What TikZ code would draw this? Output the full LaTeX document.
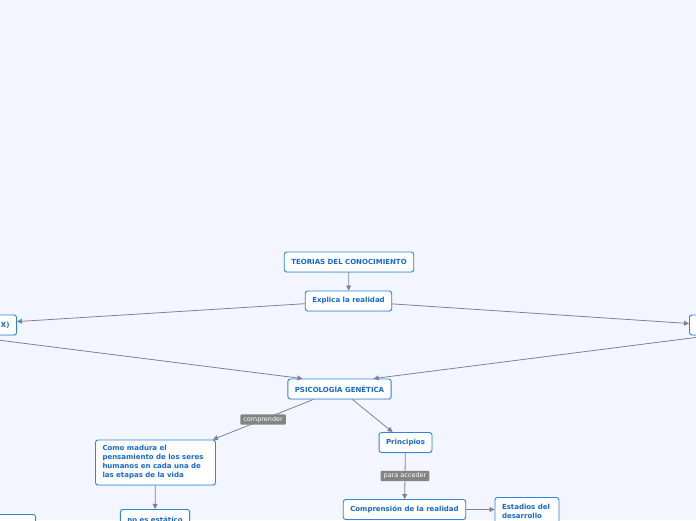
\documentclass[tikz,border=0pt]{standalone}
\usepackage{fontspec}
\setmainfont{DejaVu Sans}
\usetikzlibrary{arrows.meta,shadows}
\definecolor{bgcol}{RGB}{243,246,254}
\definecolor{boxline}{RGB}{48,132,226}
\definecolor{boxtext}{RGB}{22,104,204}
\definecolor{linkcol}{RGB}{128,130,142}
\definecolor{tagcol}{RGB}{132,132,132}
\begin{document}
\begin{tikzpicture}[x=1pt,y=-1pt,
    topic/.style={draw=boxline,line width=0.9pt,fill=white,rounded corners=2.5pt,
      text=boxtext,font=\fontsize{7}{9}\selectfont\bfseries,
      minimum height=20pt,inner xsep=7pt,inner ysep=4pt,
      drop shadow={shadow xshift=0.4pt,shadow yshift=-0.8pt,opacity=0.2}},
    tag/.style={fill=tagcol,text=white,rounded corners=1pt,
      font=\fontsize{6.5}{7}\selectfont,inner xsep=3pt,inner ysep=2pt},
    link/.style={draw=linkcol,line width=0.8pt,-{Triangle[length=5pt,width=5pt]}}]
  \fill[bgcol] (0,0) rectangle (696,520);
  \useasboundingbox (0,0) rectangle (696,520);
  \draw
    (349,262) node[topic] (teorias){TEORIAS DEL CONOCIMIENTO}
    (348.5,301) node[topic] (explica){Explica la realidad}
    (17,325) node[topic,anchor=east,text width=96pt,align=right] (izq){X)}
    (689,325) node[topic,anchor=west,minimum width=44pt] (der){}
    (339.5,389) node[topic] (psico){PSICOLOGÍA GENÉTICA}
    (405.5,442.5) node[topic] (princ){Principios}
    (155.5,462.5) node[topic,text width=106pt,align=flush left,minimum height=45pt] (madura){Como madura el pensamiento de los seres humanos en cada una de las etapas de la vida}
    (155,509) node[topic,anchor=north,inner ysep=5pt] (estatico){no es estático}
    (404.5,509.5) node[topic] (compren){Comprensión de la realidad}
    (527,497) node[topic,anchor=north,text width=50pt,align=flush left,inner ysep=7pt] (estadios){Estadios del desarrollo}
    (36,514) node[topic,anchor=north east,minimum width=60pt] (abajo){};
  \begin{scope}[link]
    \draw (teorias) to (explica);
    \draw (explica) to (izq);
    \draw (explica) to (der);
    \draw (izq.south) to ([xshift=15pt]psico.north west);
    \draw (der.south) to ([xshift=-18pt]psico.north east);
    \draw (psico) to node[tag] (comprender){comprender} (madura);
    \draw (psico) to (princ);
    \draw (princ) to node[tag] (acceder){para acceder} (compren);
    \draw (madura) to (estatico);
    \draw (compren) to (estadios.west |- compren);
  \end{scope}
\end{tikzpicture}
\end{document}
